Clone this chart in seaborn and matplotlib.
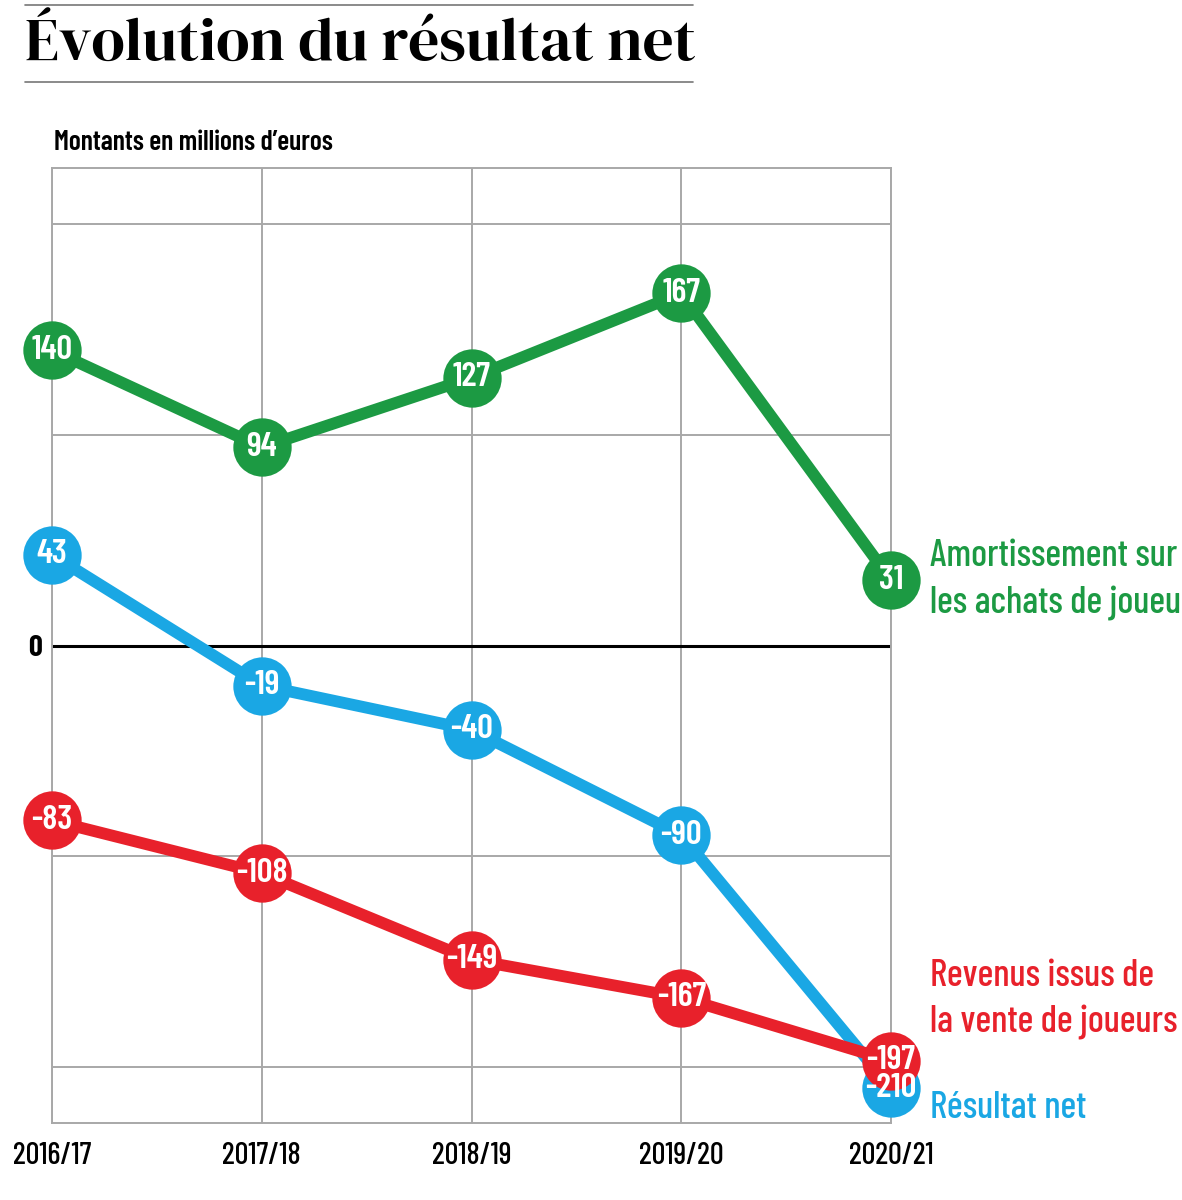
import pandas as pd
import seaborn as sns
import matplotlib.pyplot as plt
import matplotlib.transforms as mtransforms

# Data
saisons = ['2016/17', '2017/18', '2018/19', '2019/20', '2020/21']
amortissement = [140, 94, 127, 167, 31]
resultat_net = [43, -19, -40, -90, -210]
revenus_vente = [-83, -108, -149, -167, -197]

series_names = ['Amortissement sur\nles achats de joueurs', 'Résultat net',
                'Revenus issus de\nla vente de joueurs']
series_values = [amortissement, resultat_net, revenus_vente]
series_colors = ['#1c9a43', '#1aa7e4', '#e8212b']
label_y = [31, -219.5, -168]

sns.set_theme(style='white')
narrow = ['Barlow Condensed', 'Roboto Condensed', 'Liberation Sans Narrow', 'DejaVu Sans']
plt.rcParams['font.family'] = narrow

fig = plt.figure(figsize=(11.82, 12), dpi=100)
ax = fig.add_axes([52 / 1182, 1 - 1123 / 1200, 839 / 1182, 955 / 1200])

# grid
for i in range(len(saisons)):
    ax.axvline(i, color='#a8a8a8', lw=1.4, zorder=0)
for yv in [-200, -100, 100, 200]:
    ax.axhline(yv, color='#a8a8a8', lw=1.4, zorder=0)
ax.axhline(0, color='black', lw=2.2, zorder=1)

for name, vals, col, ly in zip(series_names, series_values, series_colors, label_y):
    df = pd.DataFrame({'x': range(len(saisons)), 'y': vals})
    sns.lineplot(data=df, x='x', y='y', ax=ax, color=col, lw=8.5,
                 marker='o', markersize=42, markeredgewidth=0, clip_on=False,
                 zorder=3)
    for i, v in enumerate(vals):
        ax.text(i, v, str(v), ha='center', va='center', color='white',
                fontsize=25, fontweight='semibold', zorder=5, clip_on=False)
    trans = mtransforms.blended_transform_factory(ax.transAxes, ax.transData)
    ax.text((930 - 52) / 839, ly, name, transform=trans, ha='left', va='center',
            color=col, fontsize=27, fontweight='medium', linespacing=1.45)

ax.set_xlim(0, len(saisons) - 1)
ax.set_ylim(-226.5, 226.5)
ax.set_xticks(range(len(saisons)))
ax.set_xticklabels(saisons, fontsize=22, fontweight='medium')
ax.set_yticks([0])
ax.set_yticklabels(['0'], fontsize=22, fontweight='bold')
ax.tick_params(axis='x', length=0, pad=14, colors='black')
ax.tick_params(axis='y', length=0, pad=7, colors='black')
ax.set_xlabel('')
ax.set_ylabel('')
for sp in ax.spines.values():
    sp.set_color('#a8a8a8')
    sp.set_linewidth(1.4)

# title block
fig.add_artist(plt.Line2D([25 / 1182, 693 / 1182], [1 - 5 / 1200] * 2,
                          color='#777777', lw=1.2))
fig.add_artist(plt.Line2D([25 / 1182, 693 / 1182], [1 - 82 / 1200] * 2,
                          color='#777777', lw=1.2))
fig.text(25 / 1182, 1 - 47 / 1200, 'Évolution du résultat net',
         family=['DM Serif Display', 'Liberation Serif', 'DejaVu Serif'],
         fontsize=44, va='center', ha='left', color='black')
fig.text(54 / 1182, 1 - 142 / 1200, 'Montants en millions d\u2019euros',
         fontsize=20, fontweight='semibold', va='center', ha='left', color='black')

fig.savefig('out.png', dpi=100)
